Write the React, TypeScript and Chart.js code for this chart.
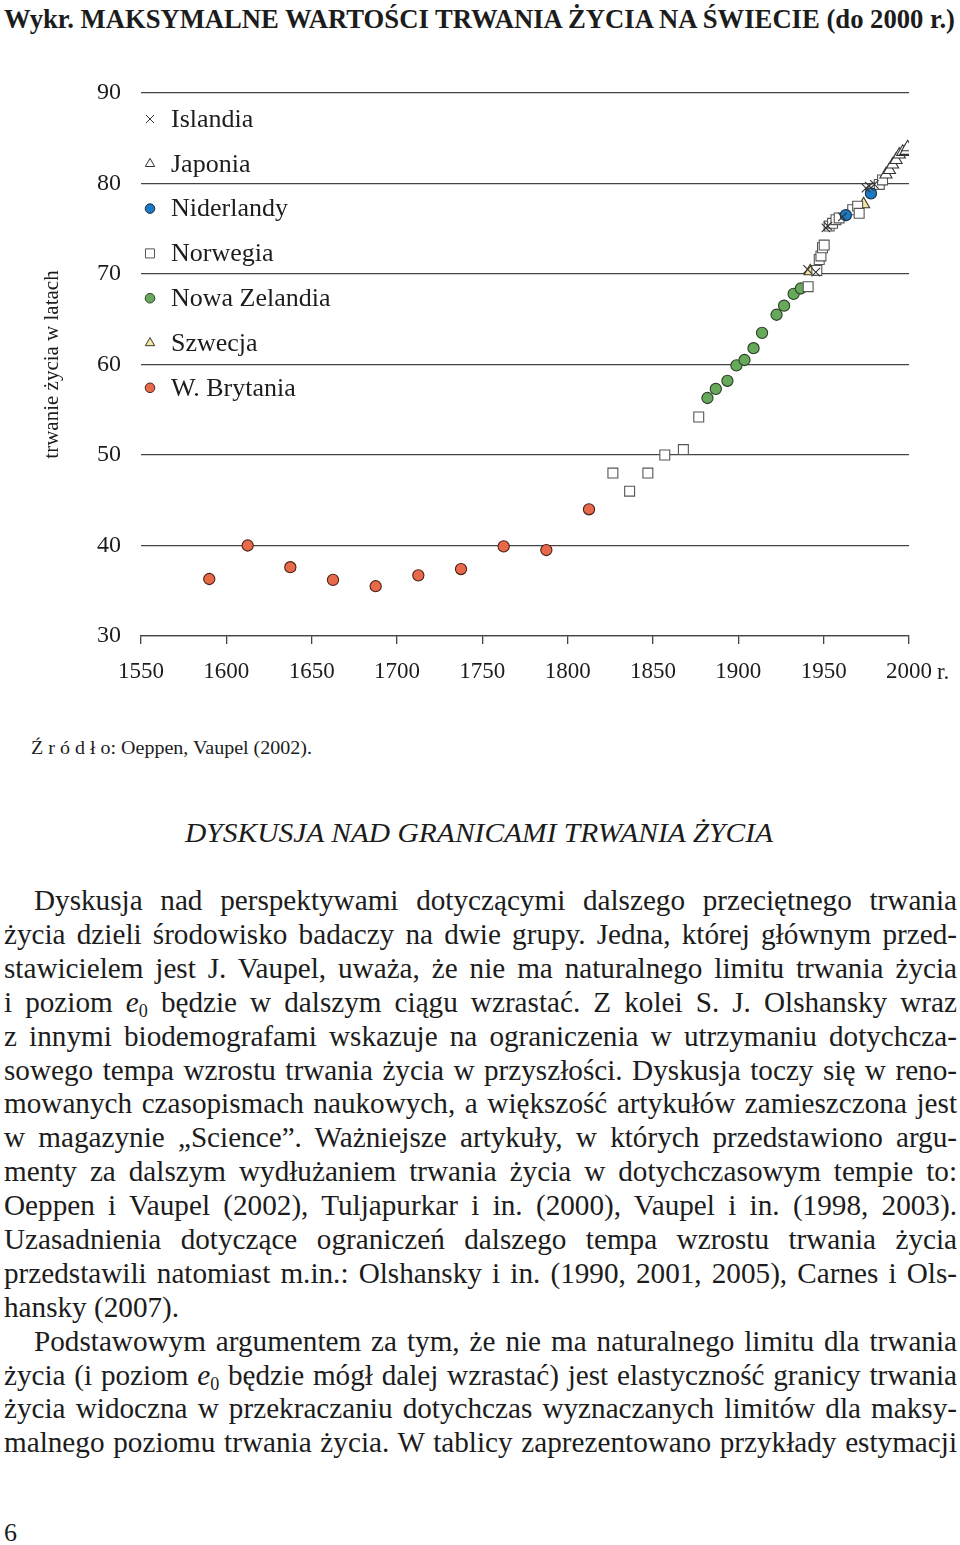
import React, { useEffect, useRef } from 'react';
import { Chart, registerables } from 'chart.js';

Chart.register(...registerables);

// ---------- DATA ----------
const seriesNames = ['Islandia', 'Japonia', 'Niderlandy', 'Norwegia', 'Nowa Zelandia', 'Szwecja', 'W. Brytania'];

const islandiaYears = [1940.6, 1945.4, 1951.3, 1952.5, 1961, 1974.8, 1976.7, 1979.7];
const islandiaValues = [70.5, 70.2, 75.1, 75.3, 76.3, 79.5, 79.7, 79.9];

const japoniaYears = [1986.5, 1988.5, 1990.4, 1992.4, 1994.3, 1996.3, 1998.2, 1999.2];
const japoniaValues = [81.0, 81.5, 82.1, 82.6, 83.2, 83.5, 83.6, 84.0];

const niderlandyYears = [1963, 1977.7];
const niderlandyValues = [76.5, 78.9];

const norwegiaYears = [1826.5, 1836.3, 1847, 1856.9, 1867.8, 1876.8, 1940.9, 1946, 1947.4, 1948.4, 1949.3, 1950.3, 1953.2, 1955.2, 1957.2, 1959.1, 1967, 1969.9, 1970.8, 1982.6, 1984.5];
const norwegiaValues = [48.0, 46.0, 48.0, 50.0, 50.6, 54.2, 68.6, 70.4, 71.6, 72.0, 72.9, 73.2, 75.3, 75.6, 76.0, 76.2, 77.1, 77.5, 76.7, 79.9, 80.4];

const nowaZelandiaYears = [1881.9, 1886.8, 1893.6, 1898.9, 1903.6, 1908.9, 1913.9, 1922.4, 1926.8, 1932.4, 1936.6];
const nowaZelandiaValues = [56.3, 57.3, 58.2, 59.9, 60.5, 61.8, 63.5, 65.5, 66.5, 67.8, 68.4];

const szwecjaYears = [1942.1, 1973.4];
const szwecjaValues = [70.3, 77.7];

const brytaniaYears = [1590, 1612.5, 1637.5, 1662.5, 1687.5, 1712.5, 1737.5, 1762.5, 1787.5, 1812.5];
const brytaniaValues = [36.3, 40.0, 37.6, 36.2, 35.5, 36.7, 37.4, 39.9, 39.5, 44.0];

const xTickValues = [1550, 1600, 1650, 1700, 1750, 1800, 1850, 1900, 1950, 2000];
const yTickValues = [30, 40, 50, 60, 70, 80, 90];

const yAxisTitle = 'trwanie życia w latach';
const xLastSuffix = 'r.';

// ---------- STYLE ----------
const SERIF = '"Liberation Serif", "Times New Roman", Times, serif';
const TEXT = '#1c1c1c';

const styles = [
  { pointStyle: 'crossRot', fill: 'rgba(0,0,0,0)', stroke: '#333333', r: 6, lr: 5.7 },
  { pointStyle: 'triangle', fill: '#ffffff', stroke: '#333333', r: 7, lr: 5.4 },
  { pointStyle: 'circle', fill: '#1b78c2', stroke: '#1d2f45', r: 5.6, lr: 4.8 },
  { pointStyle: 'rect', fill: '#ffffff', stroke: '#555555', r: 7, lr: 6.4 },
  { pointStyle: 'circle', fill: '#67a95a', stroke: '#2d3f28', r: 5.6, lr: 4.8 },
  { pointStyle: 'triangle', fill: '#f2e4a2', stroke: '#3a3a2a', r: 7, lr: 5.4 },
  { pointStyle: 'circle', fill: '#e9694b', stroke: '#4a2218', r: 5.6, lr: 4.8 },
];

const seriesYears = [islandiaYears, japoniaYears, niderlandyYears, norwegiaYears, nowaZelandiaYears, szwecjaYears, brytaniaYears];
const seriesValues = [islandiaValues, japoniaValues, niderlandyValues, norwegiaValues, nowaZelandiaValues, szwecjaValues, brytaniaValues];

function drawMarker(ctx: CanvasRenderingContext2D, style: string, x: number, y: number, r: number, fill: string, stroke: string, lw: number) {
  ctx.beginPath();
  if (style === 'circle') {
    ctx.arc(x, y, r, 0, Math.PI * 2);
  } else if (style === 'rect') {
    const s = r * Math.SQRT1_2;
    ctx.rect(x - s, y - s, 2 * s, 2 * s);
  } else if (style === 'triangle') {
    let a = 0;
    ctx.moveTo(x + Math.sin(a) * r, y - Math.cos(a) * r);
    a += (2 * Math.PI) / 3;
    ctx.lineTo(x + Math.sin(a) * r, y - Math.cos(a) * r);
    a += (2 * Math.PI) / 3;
    ctx.lineTo(x + Math.sin(a) * r, y - Math.cos(a) * r);
    ctx.closePath();
  } else {
    const s = r * Math.SQRT1_2;
    ctx.moveTo(x - s, y - s);
    ctx.lineTo(x + s, y + s);
    ctx.moveTo(x + s, y - s);
    ctx.lineTo(x - s, y + s);
  }
  if (style !== 'crossRot') {
    ctx.fillStyle = fill;
    ctx.fill();
  }
  ctx.lineWidth = lw;
  ctx.strokeStyle = stroke;
  ctx.stroke();
}

const legendPlugin = {
  id: 'pageLegend',
  afterDraw(chart: any) {
    const { ctx, chartArea } = chart;
    ctx.save();
    chart.data.datasets.forEach((ds: any, i: number) => {
      const st = styles[i];
      const y = chartArea.top + 26 + i * 44.8;
      const x = chartArea.left + 9;
      drawMarker(ctx, st.pointStyle, x, y, st.lr, st.fill, st.stroke, 1);
      ctx.font = `26px ${SERIF}`;
      ctx.fillStyle = TEXT;
      ctx.textAlign = 'left';
      ctx.textBaseline = 'middle';
      ctx.fillText(ds.label, chartArea.left + 30, y + 1);
    });
    // "r." after the last x tick label
    const xs = chart.scales.x;
    const px = xs.getPixelForValue(2000);
    ctx.font = `23px ${SERIF}`;
    const w = ctx.measureText('2000').width;
    ctx.textAlign = 'left';
    ctx.textBaseline = 'middle';
    ctx.fillStyle = TEXT;
    ctx.fillText(xLastSuffix, px + w / 2 + 5, xs.top + 37);
    ctx.restore();
  },
};

function LifeChart() {
  const ref = useRef<HTMLCanvasElement | null>(null);
  useEffect(() => {
    if (!ref.current) return;
    const datasets = seriesNames.map((name, i) => ({
      label: name,
      data: seriesYears[i].map((yr, k) => ({ x: yr, y: seriesValues[i][k] })),
      pointStyle: styles[i].pointStyle,
      pointRadius: styles[i].r,
      pointBackgroundColor: styles[i].fill,
      pointBorderColor: styles[i].stroke,
      pointBorderWidth: 1.1,
      showLine: false,
    }));
    const chart = new Chart(ref.current, {
      type: 'scatter',
      data: { datasets },
      options: {
        responsive: false,
        animation: false,
        events: [],
        layout: { padding: { top: 43, right: 51, bottom: 0, left: 0 } },
        plugins: { legend: { display: false }, tooltip: { enabled: false } },
        scales: {
          x: {
            type: 'linear',
            min: 1550,
            max: 2000,
            afterBuildTicks: (s: any) => {
              s.ticks = xTickValues.map((v) => ({ value: v }));
            },
            afterFit: (s: any) => {
              s.height = 74;
            },
            grid: { drawOnChartArea: false, drawTicks: true, tickLength: 8, color: '#444', lineWidth: 1.3 },
            border: { display: true, color: '#444', width: 1.3 },
            ticks: {
              font: { family: SERIF, size: 23 },
              color: TEXT,
              padding: 14,
              maxRotation: 0,
              autoSkip: false,
              callback: (v: any) => String(v),
            },
          },
          y: {
            type: 'linear',
            min: 30,
            max: 90,
            afterBuildTicks: (s: any) => {
              s.ticks = yTickValues.map((v) => ({ value: v }));
            },
            afterFit: (s: any) => {
              s.width = 141;
            },
            grid: { drawTicks: false, color: '#444', lineWidth: 1.3 },
            border: { display: false },
            ticks: { font: { family: SERIF, size: 24 }, color: TEXT, padding: 20 },
            title: {
              display: true,
              text: yAxisTitle,
              font: { family: SERIF, size: 21 },
              color: TEXT,
              padding: { top: 40, bottom: 0 },
            },
          },
        },
      } as any,
      plugins: [legendPlugin],
    });
    return () => chart.destroy();
  }, []);
  return <canvas ref={ref} width={960} height={660} style={{ position: 'absolute', left: 0, top: 50, width: 960, height: 660 }} />;
}

const E0 = () => (
  <>
    <i>e</i>
    <sub style={{ fontSize: '0.62em', verticalAlign: '-0.25em', lineHeight: 0 }}>0</sub>
  </>
);

const paraLines: { indent?: boolean; last?: boolean; c: React.ReactNode }[] = [
  { indent: true, c: 'Dyskusja nad perspektywami dotyczącymi dalszego przeciętnego trwania' },
  { c: 'życia dzieli środowisko badaczy na dwie grupy. Jedna, której głównym przed-' },
  { c: 'stawicielem jest J. Vaupel, uważa, że nie ma naturalnego limitu trwania życia' },
  { c: <>i poziom <E0 /> będzie w dalszym ciągu wzrastać. Z kolei S. J. Olshansky wraz</> },
  { c: 'z innymi biodemografami wskazuje na ograniczenia w utrzymaniu dotychcza-' },
  { c: 'sowego tempa wzrostu trwania życia w przyszłości. Dyskusja toczy się w reno-' },
  { c: 'mowanych czasopismach naukowych, a większość artykułów zamieszczona jest' },
  { c: 'w magazynie „Science”. Ważniejsze artykuły, w których przedstawiono argu-' },
  { c: 'menty za dalszym wydłużaniem trwania życia w dotychczasowym tempie to:' },
  { c: 'Oeppen i Vaupel (2002), Tuljapurkar i in. (2000), Vaupel i in. (1998, 2003).' },
  { c: 'Uzasadnienia dotyczące ograniczeń dalszego tempa wzrostu trwania życia' },
  { c: 'przedstawili natomiast m.in.: Olshansky i in. (1990, 2001, 2005), Carnes i Ols-' },
  { last: true, c: 'hansky (2007).' },
  { indent: true, c: 'Podstawowym argumentem za tym, że nie ma naturalnego limitu dla trwania' },
  { c: <>życia (i poziom <E0 /> będzie mógł dalej wzrastać) jest elastyczność granicy trwania</> },
  { c: 'życia widoczna w przekraczaniu dotychczas wyznaczanych limitów dla maksy-' },
  { c: 'malnego poziomu trwania życia. W tablicy zaprezentowano przykłady estymacji' },
];

export default function App() {
  const LH = 33.9;
  return (
    <div style={{ position: 'absolute', left: 0, top: 0, width: 960, height: 1545, background: '#fff', overflow: 'hidden', fontFamily: SERIF, color: TEXT }}>
      <svg width={960} height={1545} style={{ position: 'absolute', left: 0, top: 0 }}>
        <text x={4} y={28} fontFamily={SERIF} fontWeight="bold" fontSize={27} fill={TEXT} textLength={951} lengthAdjust="spacingAndGlyphs">
          Wykr. MAKSYMALNE WARTOŚCI TRWANIA ŻYCIA NA ŚWIECIE (do 2000 r.)
        </text>
        <text x={31} y={754} fontFamily={SERIF} fontSize={19} fill={TEXT} textLength={281} lengthAdjust="spacingAndGlyphs">
          Ź r ó d ł o: Oeppen, Vaupel (2002).
        </text>
        <text x={185} y={842} fontFamily={SERIF} fontStyle="italic" fontSize={27} fill={TEXT} textLength={588} lengthAdjust="spacingAndGlyphs">
          DYSKUSJA NAD GRANICAMI TRWANIA ŻYCIA
        </text>
        <text x={4} y={1541} fontFamily={SERIF} fontSize={26} fill={TEXT}>
          6
        </text>
      </svg>
      <LifeChart />
      <div style={{ position: 'absolute', left: 4, top: 901 - LH / 2, width: 953, fontSize: 29.2 }}>
        {paraLines.map((l, i) => (
          <div
            key={i}
            style={{
              height: LH,
              lineHeight: `${LH}px`,
              whiteSpace: 'nowrap',
              textAlign: l.last ? 'left' : 'justify',
              textAlignLast: l.last ? 'left' : 'justify',
              paddingLeft: l.indent ? 30 : 0,
            }}
          >
            {l.c}
          </div>
        ))}
      </div>
    </div>
  );
}
